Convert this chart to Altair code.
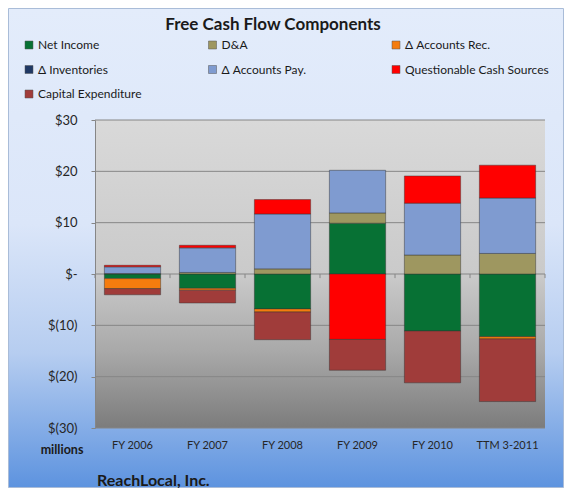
import altair as alt
import pandas as pd

periods = ["FY 2006", "FY 2007", "FY 2008", "FY 2009", "FY 2010", "TTM 3-2011"]
series = ["Net Income", "D&A", "Δ Accounts Rec.", "Δ Inventories",
          "Δ Accounts Pay.", "Questionable Cash Sources", "Capital Expenditure"]
colors = ["#077134", "#9e9760", "#f57c0e", "#1f3864", "#7f9bd0", "#ff0000", "#a03c3a"]

net_income = [-0.9, -2.8, -6.8, 9.9, -11.1, -12.2]
d_and_a = [0.1, 0.3, 1.0, 2.0, 3.7, 4.0]
accounts_rec = [-1.95, -0.35, -0.6, 0.0, 0.0, -0.45]
inventories = [0.0, 0.0, 0.0, 0.0, 0.0, 0.0]
accounts_pay = [1.3, 4.8, 10.7, 8.3, 10.1, 10.8]
questionable = [0.3, 0.5, 2.8, -12.75, 5.3, 6.4]
capex = [-1.2, -2.5, -5.4, -6.0, -10.1, -12.2]

grid_values = [-30, -20, -10, 0, 10, 20, 30]

all_series = [net_income, d_and_a, accounts_rec, inventories, accounts_pay, questionable, capex]
rows = []
for si, (name, vals) in enumerate(zip(series, all_series)):
    for p, v in zip(periods, vals):
        if v != 0:
            rows.append({"period": p, "series": name, "value": v, "idx": si})
df = pd.DataFrame(rows)

FONT = "Lato"
W, H = 450, 308
PL, PT, PR, PB = 87, 112, 19, 60
PAD_IN, PAD_OUT = 0.25, 0.125
STEP = W / len(periods)
HALF_GAP = STEP * PAD_IN / 2

one = pd.DataFrame({"a": [0]})

outer_bg = alt.Chart(one).mark_rect(
    fill=alt.LinearGradient(
        gradient="linear", x1=0, x2=0, y1=0, y2=1,
        stops=[alt.GradientStop(color="#e3ecfb", offset=0),
               alt.GradientStop(color="#dbe6f9", offset=0.45),
               alt.GradientStop(color="#b6cdf0", offset=0.72),
               alt.GradientStop(color="#5d93df", offset=1)]),
    stroke="#a9bcd8", strokeWidth=1,
).encode(x=alt.value(-PL + 0.5), x2=alt.value(W + PR - 0.5),
         y=alt.value(-PT + 0.5), y2=alt.value(H + PB - 0.5))

plot_bg = alt.Chart(one).mark_rect(
    fill=alt.LinearGradient(
        gradient="linear", x1=0, x2=0, y1=0, y2=1,
        stops=[alt.GradientStop(color="#d9d9d9", offset=0),
               alt.GradientStop(color="#cacaca", offset=0.5),
               alt.GradientStop(color="#a9a9a9", offset=0.75),
               alt.GradientStop(color="#7c7c7c", offset=1)]),
).encode(x=alt.value(0), x2=alt.value(W), y=alt.value(0), y2=alt.value(H))

yscale = alt.Scale(domain=[-30, 30], nice=False, zero=False)
xscale = alt.Scale(paddingInner=PAD_IN, paddingOuter=PAD_OUT)

y_axis = alt.Axis(values=grid_values, grid=False, tickSize=4,
                  tickColor="#868686", domainColor="#868686",
                  labelPadding=14, labelFont=FONT, labelFontSize=13,
                  labelColor="#262626", zindex=1, orient="left",
                  labelExpr="datum.value == 0 ? '$-' : (datum.value > 0 ? '$' + datum.value : '$(' + abs(datum.value) + ')')")

grid = alt.Chart(pd.DataFrame({"g": grid_values})).mark_rule(
    color="#868686", strokeWidth=1
).encode(y=alt.Y("g:Q", scale=yscale, title=None, axis=y_axis))

x_axis = alt.Axis(orient="bottom", labelAngle=0, ticks=False, tickSize=0,
                  domain=False, grid=False, labelPadding=11,
                  labelFont=FONT, labelFontSize=11, labelColor="#262626", zindex=1)

pdf = pd.DataFrame({"period": periods})
ticks_left = alt.Chart(pdf).mark_rule(
    color="#868686", strokeWidth=1, xOffset=-HALF_GAP).encode(
    x=alt.X("period:N", sort=periods, scale=xscale, title=None, axis=x_axis,
            bandPosition=0),
    y=alt.datum(0), y2=alt.datum(-0.8),
)
ticks_right = alt.Chart(pd.DataFrame({"period": periods[-1:]})).mark_rule(
    color="#868686", strokeWidth=1, xOffset=HALF_GAP).encode(
    x=alt.X("period:N", sort=periods, scale=xscale, title=None, axis=x_axis,
            bandPosition=1),
    y=alt.datum(0), y2=alt.datum(-0.8),
)

bars = alt.Chart(df).mark_bar(
    stroke="#303030", strokeOpacity=0.45, strokeWidth=1
).encode(
    x=alt.X("period:N", sort=periods, scale=xscale, title=None, axis=x_axis),
    y=alt.Y("sum(value):Q", scale=yscale, title=None, axis=y_axis),
    color=alt.Color("series:N", scale=alt.Scale(domain=series, range=colors),
                    legend=alt.Legend(title=None, orient="none", legendX=-72, legendY=-81,
                                      direction="horizontal",
                                      columns=3, gridAlign="all", columnPadding=24.5,
                                      rowPadding=12.5, labelFont=FONT, labelFontSize=12,
                                      labelColor="#1a1a1a", symbolType="square",
                                      symbolSize=64, symbolStrokeColor="#555555",
                                      symbolStrokeWidth=0.5, labelOffset=3, padding=0)),
    order=alt.Order("idx:Q", sort="ascending"),
)

title_t = alt.Chart(one).mark_text(
    text="Free Cash Flow Components", font=FONT, fontSize=17, fontWeight="bold",
    color="#1a1a1a", align="center", baseline="middle"
).encode(x=alt.value(178), y=alt.value(-95))

millions_t = alt.Chart(one).mark_text(
    text="millions", font=FONT, fontSize=12.5, fontWeight="bold",
    color="#1a1a1a", align="center", baseline="middle"
).encode(x=alt.value(-33), y=alt.value(H + 22))

company_t = alt.Chart(one).mark_text(
    text="ReachLocal, Inc.", font=FONT, fontSize=16, fontWeight="bold",
    color="#1a1a1a", align="left", baseline="middle"
).encode(x=alt.value(2), y=alt.value(H + 53))

chart = alt.layer(
    outer_bg, plot_bg, grid, ticks_left, ticks_right, bars, title_t, millions_t, company_t
).properties(
    width=W, height=H,
    autosize=alt.AutoSizeParams(type="none"),
    padding={"left": PL, "top": PT, "right": PR, "bottom": PB},
    background="white",
).configure_view(stroke=None)

chart.save("out.html", embed_options={"renderer": "svg", "actions": False})
